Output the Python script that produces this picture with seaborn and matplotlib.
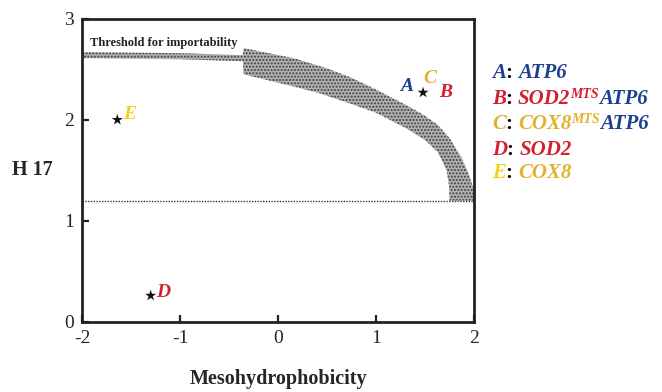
import matplotlib
matplotlib.use("Agg")
import matplotlib.pyplot as plt
import seaborn as sns
import pandas as pd

# construct data
point_names = ["ABC", "D", "E"]
point_x = [1.48, -1.30, -1.64]
point_y = [2.27, 0.26, 2.00]

# threshold band outline (upper edge left->right, then lower edge right->left)
band_x = [-2.0, -1.0, -0.36, -0.35, 0.16, 0.50, 0.74, 1.00, 1.32, 1.50, 1.63, 1.75,
          1.87, 1.94, 1.98, 2.0, 2.0,
          1.75, 1.745, 1.72, 1.63, 1.50, 1.32, 1.00, 0.74, 0.40, 0.16, -0.35, -0.36,
          -1.0, -2.0]
band_y = [2.67, 2.66, 2.64, 2.71, 2.61, 2.51, 2.42, 2.30, 2.14, 2.04, 1.95, 1.82,
          1.63, 1.48, 1.36, 1.30, 1.20,
          1.20, 1.35, 1.50, 1.68, 1.80, 1.91, 2.07, 2.16, 2.27, 2.33, 2.45, 2.58,
          2.60, 2.61]
cutoff_y = 1.2

x_ticks = [-2, -1, 0, 1, 2]
y_ticks = [0, 1, 2, 3]

BLUE = "#1c3f8e"
RED = "#d2202e"
GOLD = "#e2b22e"
YELLOW = "#f0d21c"

legend_rows = [
    [("A", BLUE, False), (": ", "black", False), ("ATP6", BLUE, False)],
    [("B", RED, False), (": ", "black", False), ("SOD2", RED, False), ("MTS", RED, True), ("ATP6", BLUE, False)],
    [("C", GOLD, False), (": ", "black", False), ("COX8", GOLD, False), ("MTS", GOLD, True), ("ATP6", BLUE, False)],
    [("D", RED, False), (": ", "black", False), ("SOD2", RED, False)],
    [("E", YELLOW, False), (": ", "black", False), ("COX8", GOLD, False)],
]

df = pd.DataFrame({"name": point_names, "meso": point_x, "h17": point_y})

sns.set_style("ticks")
plt.rcParams["font.family"] = ["Liberation Serif", "DejaVu Serif"]
plt.rcParams["hatch.linewidth"] = 1.0

fig = plt.figure(figsize=(6.62, 3.92), dpi=100)
ax = fig.add_axes([0.124, 0.179, 0.592, 0.773])

ax.fill(band_x, band_y, facecolor="#b2b2b2", edgecolor="#404040", hatch=".....", linewidth=0)
ax.axhline(cutoff_y, color="#333333", linestyle=(0, (1, 1)), linewidth=1.0)

sns.scatterplot(data=df, x="meso", y="h17", marker="*", color="#111111", s=70,
                edgecolor="none", ax=ax, zorder=5, legend=False)

lab = dict(fontsize=14, fontweight="bold", fontstyle="italic", textcoords="offset points")
ax.annotate("A", (point_x[0], point_y[0]), xytext=(-12, -2), color=BLUE, ha="center", va="bottom", **lab)
ax.annotate("C", (point_x[0], point_y[0]), xytext=(5, 4), color=GOLD, ha="center", va="bottom", **lab)
ax.annotate("B", (point_x[0], point_y[0]), xytext=(16, -6), color=RED, ha="center", va="bottom", **lab)
ax.annotate("D", (point_x[1], point_y[1]), xytext=(4, -4), color=RED, ha="left", va="bottom", **lab)
ax.annotate("E", (point_x[2], point_y[2]), xytext=(4, -2), color=YELLOW, ha="left", va="bottom", **lab)

ax.text(-1.92, 2.73, "Threshold for importability", fontsize=9, fontweight="bold",
        color="#222222", ha="left", va="baseline")

ax.set_xlim(-2, 2)
ax.set_ylim(0, 3)
ax.set_xticks(x_ticks)
ax.set_yticks(y_ticks)
ax.set_xticklabels([str(v) for v in x_ticks], fontsize=14)
ax.set_yticklabels([str(v) for v in y_ticks], fontsize=14)
ax.tick_params(direction="in", length=5, width=1.6, color="#222222", pad=6)
for sp in ax.spines.values():
    sp.set_visible(True)
    sp.set_linewidth(2.0)
    sp.set_color("#222222")

ax.set_xlabel("Mesohydrophobicity", fontsize=14.5, fontweight="bold", labelpad=16)
ax.set_ylabel("H 17", fontsize=14.5, fontweight="bold", rotation=0, ha="center", va="center")
ax.yaxis.set_label_coords(-0.128, 0.5)

# coloured legend on the right, built from chained text pieces
row_y = [0.787, 0.722, 0.657, 0.592, 0.532]
for row, ypos in zip(legend_rows, row_y):
    first = None
    prev = None
    for txt, col, sup in row:
        style = "normal" if txt == ": " else "italic"
        size = 10 if sup else 15
        if first is None:
            t = fig.text(0.743, ypos, txt, color=col, fontsize=size, fontweight="bold",
                         fontstyle=style, ha="left", va="bottom")
            first = t
        else:
            t = ax.annotate(txt, xy=(1, 0), xycoords=(prev, first),
                            xytext=(0, 6 if sup else 0), textcoords="offset points",
                            color=col, fontsize=size, fontweight="bold", fontstyle=style,
                            ha="left", va="bottom", annotation_clip=False)
        prev = t

fig.savefig("out.png", dpi=100)
